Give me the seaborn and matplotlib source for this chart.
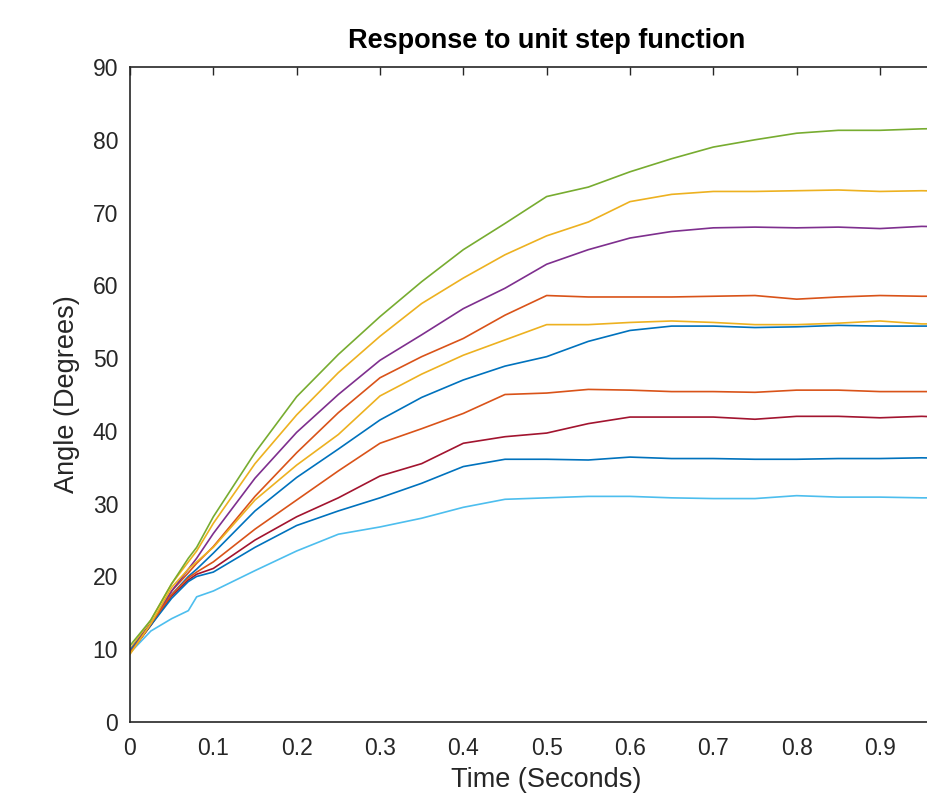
import numpy as np
import pandas as pd
import seaborn as sns
import matplotlib
matplotlib.use("Agg")
import matplotlib.pyplot as plt

# sample times (seconds)
time = [0, 0.025, 0.05, 0.07, 0.08, 0.1, 0.15, 0.2, 0.25, 0.3, 0.35, 0.4,
        0.45, 0.5, 0.55, 0.6, 0.65, 0.7, 0.75, 0.8, 0.85, 0.9, 0.95, 1.0]

# angle responses (degrees), one list per run
run1 = [10.0, 13.5, 17.5, 20.0, 21.0, 23.2, 29.0, 33.6, 37.5, 41.5, 44.6, 47.0,
        48.9, 50.2, 52.3, 53.8, 54.4, 54.4, 54.2, 54.3, 54.5, 54.4, 54.4, 54.4]
run2 = [9.5, 13.3, 18.0, 20.5, 21.8, 24.1, 31.0, 37.0, 42.5, 47.3, 50.2, 52.7,
        55.9, 58.6, 58.4, 58.4, 58.4, 58.5, 58.6, 58.1, 58.4, 58.6, 58.5, 58.5]
run3 = [10.0, 14.0, 19.0, 22.0, 23.5, 27.3, 35.5, 42.2, 48.0, 53.0, 57.5, 61.0,
        64.2, 66.8, 68.7, 71.5, 72.5, 72.9, 72.9, 73.0, 73.1, 72.9, 73.0, 72.9]
run4 = [9.8, 13.5, 18.0, 21.0, 22.5, 25.9, 33.5, 39.8, 45.0, 49.7, 53.2, 56.8,
        59.6, 62.9, 64.9, 66.5, 67.4, 67.9, 68.0, 67.9, 68.0, 67.8, 68.1, 68.0]
run5 = [10.5, 14.0, 19.0, 22.5, 24.0, 28.2, 37.0, 44.7, 50.5, 55.7, 60.5, 64.9,
        68.5, 72.2, 73.5, 75.6, 77.4, 79.0, 80.0, 80.9, 81.3, 81.3, 81.5, 81.6]
run6 = [9.5, 12.5, 14.2, 15.3, 17.2, 18.0, 20.8, 23.5, 25.8, 26.8, 28.0, 29.5,
        30.6, 30.8, 31.0, 31.0, 30.8, 30.7, 30.7, 31.1, 30.9, 30.9, 30.8, 30.8]
run7 = [9.5, 13.3, 17.3, 19.5, 20.3, 21.1, 25.0, 28.2, 30.8, 33.8, 35.5, 38.3,
        39.2, 39.7, 41.0, 41.9, 41.9, 41.9, 41.6, 42.0, 42.0, 41.8, 42.0, 41.8]
run8 = [9.8, 13.3, 17.0, 19.3, 20.0, 20.6, 24.0, 27.0, 29.0, 30.8, 32.8, 35.1,
        36.1, 36.1, 36.0, 36.4, 36.2, 36.2, 36.1, 36.1, 36.2, 36.2, 36.3, 36.2]
run9 = [9.5, 13.5, 17.5, 19.8, 20.6, 22.0, 26.5, 30.5, 34.5, 38.3, 40.3, 42.4,
        45.0, 45.2, 45.7, 45.6, 45.4, 45.4, 45.3, 45.6, 45.6, 45.4, 45.4, 45.4]
run10 = [9.3, 13.5, 18.5, 21.0, 22.0, 24.0, 30.5, 35.3, 39.5, 44.8, 47.8, 50.4,
         52.5, 54.6, 54.6, 54.9, 55.1, 54.9, 54.6, 54.6, 54.8, 55.1, 54.7, 54.7]

runs = [run1, run2, run3, run4, run5, run6, run7, run8, run9, run10]

# only ticks up to 0.9 are inside the picture
x_ticks = [0, 0.1, 0.2, 0.3, 0.4, 0.5, 0.6, 0.7, 0.8, 0.9]
x_tick_labels = ["0", "0.1", "0.2", "0.3", "0.4", "0.5", "0.6", "0.7", "0.8", "0.9"]
y_ticks = [0, 10, 20, 30, 40, 50, 60, 70, 80, 90]

# MATLAB default line colour order
matlab_colors = ["#0072BD", "#D95319", "#EDB120", "#7E2F8E", "#77AC30",
                 "#4DBEEE", "#A2142F"]
palette = [matlab_colors[i % len(matlab_colors)] for i in range(len(runs))]

df = pd.concat(
    [pd.DataFrame({"time": time, "angle": r, "run": f"run{i+1}"}) for i, r in enumerate(runs)],
    ignore_index=True,
)

sns.set_style("white")
plt.rcParams["font.family"] = ["Liberation Sans", "DejaVu Sans"]

fig = plt.figure(figsize=(9.27, 7.94), dpi=100)
# axes run to x=1.0, a bit past the right edge of the picture (cropped like the original)
ax = fig.add_axes([130 / 927, 72 / 794, 833.3 / 927, 655 / 794])

sns.lineplot(data=df, x="time", y="angle", hue="run", palette=palette,
             legend=False, linewidth=1.2, ax=ax)

ax.set_xlim(0, 1)
ax.set_ylim(0, 90)
ax.set_xticks(x_ticks)
ax.set_xticklabels(x_tick_labels)
ax.set_yticks(y_ticks)

axis_color = "#262626"
for side in ["left", "bottom", "top", "right"]:
    ax.spines[side].set_visible(True)
    ax.spines[side].set_color(axis_color)
    ax.spines[side].set_linewidth(1.2)

ax.tick_params(axis="both", direction="in", length=6, width=1.0,
               colors=axis_color, labelsize=16.5, top=True, right=True)
ax.tick_params(axis="x", pad=10.5)
ax.tick_params(axis="y", pad=8.5)

ax.set_title("Response to unit step function", fontsize=19.5, fontweight="bold",
             color="black", pad=14)
ax.set_xlabel("Time (Seconds)", fontsize=19.5, color=axis_color, labelpad=5)
ax.set_ylabel("Angle (Degrees)", fontsize=19.5, color=axis_color, labelpad=9)

fig.savefig("out.png", dpi=100)
plt.close(fig)
